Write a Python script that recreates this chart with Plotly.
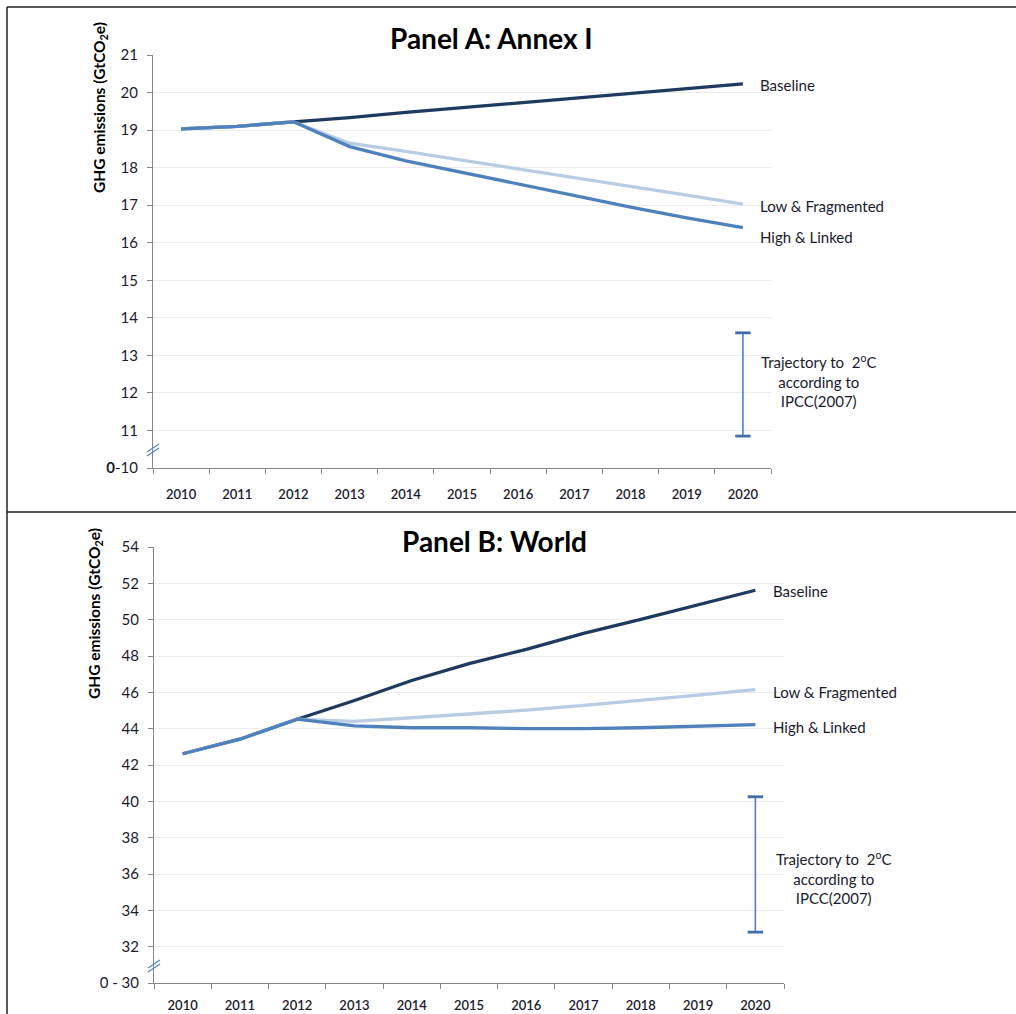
import plotly.graph_objects as go

W, H = 1016, 1014
FONT = "Lato"

years = [str(y) for y in range(2010, 2021)]
LAST = len(years) - 1  # category index of 2020

# Panel A: Annex I (GtCO2e)
a_baseline = [19.03, 19.10, 19.22, 19.33, 19.47, 19.60, 19.73, 19.86, 19.99, 20.11, 20.23]
a_low_frag = [19.03, 19.10, 19.22, 18.65, 18.43, 18.20, 17.98, 17.75, 17.50, 17.27, 17.03]
a_high_link = [19.03, 19.10, 19.22, 18.56, 18.18, 17.87, 17.55, 17.25, 16.95, 16.66, 16.40]
a_traj = [10.85, 13.60]  # 2°C trajectory range in 2020

# Panel B: World (GtCO2e)
b_baseline = [42.62, 43.42, 44.52, 45.55, 46.65, 47.58, 48.37, 49.25, 50.02, 50.80, 51.62]
b_low_frag = [42.62, 43.42, 44.52, 44.40, 44.60, 44.80, 45.02, 45.28, 45.55, 45.85, 46.15]
b_high_link = [42.62, 43.42, 44.52, 44.15, 44.05, 44.05, 44.00, 44.00, 44.05, 44.12, 44.22]
b_traj = [32.80, 40.25]

a_ticks = list(range(10, 22))
a_ticktext = ["<b>0</b>-10"] + [str(v) for v in range(11, 22)]
b_ticks = list(range(30, 56, 2))
b_ticktext = ["0 - 30"] + [str(v) for v in range(32, 56, 2)]

series_names = ["Baseline", "Low & Fragmented", "High & Linked"]
series_colors = ["#1f3a5f", "#b8cce4", "#4f81bd"]


def px_x(p):
    return p / W


def px_y(p):
    return 1 - p / H


fig = go.Figure()

panels = [
    ("x", "y", [a_baseline, a_low_frag, a_high_link], a_traj),
    ("x2", "y2", [b_baseline, b_low_frag, b_high_link], b_traj),
]

for xa, ya, series, traj in panels:
    for name, vals, col in zip(series_names, series, series_colors):
        fig.add_trace(go.Scatter(
            x=years, y=vals, mode="lines", name=name,
            line=dict(color=col, width=3.3),
            xaxis=xa, yaxis=ya, hoverinfo="skip",
        ))
    # 2°C trajectory range drawn as an error bar at 2020
    fig.add_trace(go.Scatter(
        x=[years[-1]], y=[traj[1]], mode="markers",
        marker=dict(size=1, color="rgba(0,0,0,0)"),
        error_y=dict(type="data", symmetric=False, array=[0],
                     arrayminus=[traj[1] - traj[0]],
                     color="#4f81bd", thickness=1.6, width=5),
        xaxis=xa, yaxis=ya, hoverinfo="skip",
    ))
    # heavier caps on the range ends
    fig.add_trace(go.Scatter(
        x=[years[-1], years[-1]], y=traj, mode="markers",
        marker=dict(symbol="line-ew-open", size=11, color="#3f6fa8",
                    line=dict(color="#3f6fa8", width=2.8)),
        xaxis=xa, yaxis=ya, hoverinfo="skip",
    ))

axis_common = dict(
    type="category", tickson="boundaries", ticks="outside", ticklen=5,
    tickcolor="#868686", showline=True, linecolor="#868686", linewidth=1,
    showgrid=False, zeroline=False, range=[-0.5, 10.5],
    tickfont=dict(family=FONT, size=13, color="#1a1a2e", weight=600),
)
yaxis_common = dict(
    ticks="outside", ticklen=5, tickcolor="#868686", showline=True,
    linecolor="#868686", linewidth=1, showgrid=True, gridcolor="#ececec",
    gridwidth=1, zeroline=False, ticklabelstandoff=6,
    tickfont=dict(family=FONT, size=15, color="#1a1a2e"),
)

fig.update_layout(
    width=W, height=H,
    margin=dict(l=0, r=0, t=0, b=0, pad=0, autoexpand=False),
    paper_bgcolor="white", plot_bgcolor="white", showlegend=False,
    font=dict(family=FONT, color="#1a1a2e"),
    xaxis=dict(axis_common, domain=[px_x(153), px_x(771)], anchor="y",
               ticklabelstandoff=14),
    yaxis=dict(yaxis_common, domain=[px_y(468), px_y(55)], anchor="x",
               range=[10, 21], tickvals=a_ticks, ticktext=a_ticktext),
    xaxis2=dict(axis_common, domain=[px_x(154), px_x(784)], anchor="y2",
                ticklabelstandoff=10),
    yaxis2=dict(yaxis_common, domain=[px_y(983), px_y(547)], anchor="x2",
                range=[30, 54], tickvals=b_ticks, ticktext=b_ticktext),
)

ann = []
label_font = dict(family=FONT, size=15, color="#1a1a2e")

# Series end labels
for xa, ya, series, shifts, xs in [
    ("x", "y", [a_baseline, a_low_frag, a_high_link], [-1, -2, -9], 15),
    ("x2", "y2", [b_baseline, b_low_frag, b_high_link], [-1, -2, -2], 16),
]:
    for name, vals, ys in zip(series_names, series, shifts):
        ann.append(dict(x=LAST, y=vals[-1], xref=xa, yref=ya,
                        text=name, showarrow=False, xanchor="left",
                        yanchor="middle", xshift=xs, yshift=ys,
                        font=label_font))

traj_text = "Trajectory to  2<sup>o</sup>C<br>according to<br>IPCC(2007)"
ann.append(dict(x=LAST, y=12.33, xref="x", yref="y", text=traj_text,
                showarrow=False, xanchor="center", yanchor="middle",
                xshift=76, font=label_font, align="center"))
ann.append(dict(x=LAST, y=35.77, xref="x2", yref="y2", text=traj_text,
                showarrow=False, xanchor="center", yanchor="middle",
                xshift=78, font=label_font, align="center"))

# Panel titles
ann.append(dict(x=px_x(491), y=px_y(38), xref="paper", yref="paper",
                text="<b>Panel A: Annex I</b>", showarrow=False,
                xanchor="center", yanchor="middle",
                font=dict(family=FONT, size=28, color="black")))
ann.append(dict(x=px_x(494), y=px_y(541), xref="paper", yref="paper",
                text="<b>Panel B: World</b>", showarrow=False,
                xanchor="center", yanchor="middle",
                font=dict(family=FONT, size=28, color="black")))

# Y-axis titles
ytitle = "<b>GHG emissions (GtCO<sub>2</sub>e)</b>"
ann.append(dict(x=px_x(100), y=px_y(108), xref="paper", yref="paper",
                text=ytitle, showarrow=False, textangle=-90,
                xanchor="center", yanchor="middle",
                font=dict(family=FONT, size=15.5, color="black")))
ann.append(dict(x=px_x(95), y=px_y(614), xref="paper", yref="paper",
                text=ytitle, showarrow=False, textangle=-90,
                xanchor="center", yanchor="middle",
                font=dict(family=FONT, size=15.5, color="black")))

fig.update_layout(annotations=ann)

shapes = []
# Frame lines around the panels
frame = dict(type="line", xref="paper", yref="paper",
             line=dict(color="#222222", width=1.5))
shapes.append(dict(frame, x0=px_x(7), x1=1.0, y0=px_y(7), y1=px_y(7)))
shapes.append(dict(frame, x0=px_x(7), x1=1.0, y0=px_y(512), y1=px_y(512)))
shapes.append(dict(frame, x0=px_x(7), x1=px_x(7), y0=px_y(7), y1=0.0))

# Axis-break marks on the y axes
brk = dict(type="line", xref="paper", yref="paper",
           line=dict(color="#4f81bd", width=1.2))
for cx, cy in [(153, 450), (154, 966)]:
    for off in (-2, 2):
        shapes.append(dict(brk, x0=px_x(cx - 6), y0=px_y(cy + 4 + off),
                           x1=px_x(cx + 6), y1=px_y(cy - 4 + off)))

fig.update_layout(shapes=shapes)

fig.write_html("out.html")
